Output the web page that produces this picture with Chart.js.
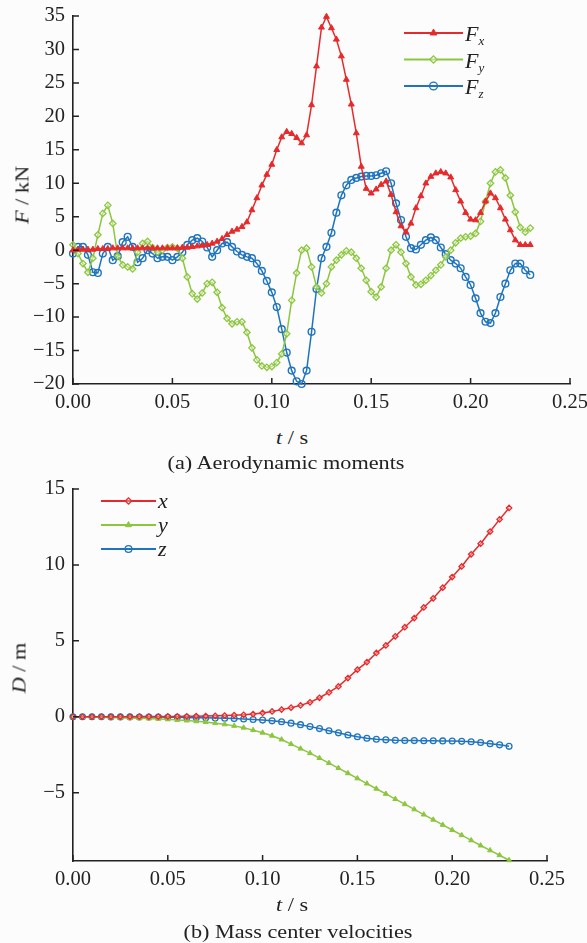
<!DOCTYPE html>
<html><head><meta charset="utf-8">
<script src="https://cdn.jsdelivr.net/npm/chart.js@4.4.0/dist/chart.umd.min.js"></script>
<style>
html,body{margin:0;padding:0;background:#fcfcfc;}
#wrap{position:relative;width:587px;height:943px;background:#fcfcfc;font-family:"Liberation Serif","Times New Roman",serif;color:#222;overflow:hidden;}
canvas{position:absolute;left:0;}
.t{position:absolute;white-space:nowrap;font-size:19px;line-height:1;transform:translate(-50%,-50%) scaleX(1.17);}
.r{transform:translate(-50%,-50%) rotate(-90deg) scaleX(1.17);}
.lg{position:absolute;white-space:nowrap;font-size:22px;line-height:1;font-style:italic;transform:translateY(-50%);}
.lg sub{font-size:13px;vertical-align:-4px;}
</style></head><body>
<div id="wrap">
<canvas id="c1" width="587" height="420" style="top:0"></canvas>
<canvas id="c2" width="587" height="430" style="top:470px"></canvas>
<div class="t" style="left:292px;top:437px"><i>t</i> / s</div>
<div class="t" style="left:286px;top:462px">(a) Aerodynamic moments</div>
<div class="t" style="left:292px;top:904px"><i>t</i> / s</div>
<div class="t" style="left:298px;top:931px">(b) Mass center velocities</div>
<div class="t r" style="left:22px;top:195px"><i>F</i> / kN</div>
<div class="t r" style="left:19px;top:668px"><i>D</i> / m</div>
<div class="lg" style="left:465px;top:35px">F<sub>x</sub></div>
<div class="lg" style="left:465px;top:62px">F<sub>y</sub></div>
<div class="lg" style="left:465px;top:88px">F<sub>z</sub></div>
<div class="lg" style="left:158px;top:501px">x</div>
<div class="lg" style="left:158px;top:525px">y</div>
<div class="lg" style="left:158px;top:549px">z</div>
</div>
<script>
// ---- data: (a) aerodynamic forces ----
const tTop = [0,0.0025,0.005,0.0075,0.01,0.0125,0.015,0.0175,0.02,0.0225,0.025,0.0275,0.03,0.0325,0.035,0.0375,0.04,0.0425,0.045,0.0475,0.05,0.0525,0.055,0.0575,0.06,0.0625,0.065,0.0675,0.07,0.0725,0.075,0.0775,0.08,0.0825,0.085,0.0875,0.09,0.0925,0.095,0.0975,0.1,0.1025,0.105,0.1075,0.11,0.1125,0.115,0.1175,0.12,0.1225,0.125,0.1275,0.13,0.1325,0.135,0.1375,0.14,0.1425,0.145,0.1475,0.15,0.1525,0.155,0.1575,0.16,0.1625,0.165,0.1675,0.17,0.1725,0.175,0.1775,0.18,0.1825,0.185,0.1875,0.19,0.1925,0.195,0.1975,0.2,0.2025,0.205,0.2075,0.21,0.2125,0.215,0.2175,0.22,0.2225,0.225,0.2275,0.23];
const Fx = [0.0,0.1,0.1,0.1,0.1,0.2,0.2,0.2,0.3,0.3,
0.3,0.3,0.3,0.3,0.3,0.3,0.3,0.3,0.3,0.3,
0.3,0.3,0.4,0.4,0.5,0.6,0.7,0.8,1.0,1.3,
1.7,2.3,2.8,3.1,3.5,4.2,6.0,7.8,9.7,11.3,
12.8,15.0,16.9,17.7,17.4,16.8,16.0,17.2,21.7,27.5,
33.3,34.9,33.2,31.5,29.0,25.5,21.8,17.5,12.5,9.2,
8.5,9.1,9.8,10.3,8.3,5.7,3.6,2.7,4.0,6.3,
8.1,10.0,11.0,11.5,11.7,11.5,10.9,9.0,7.3,5.6,
4.6,4.5,5.6,7.3,8.5,7.8,6.3,4.6,3.0,1.5,
0.8,0.8,0.8];
const Fy = [0.8,-0.5,-2.0,-3.3,-1.2,2.3,5.5,6.7,4.0,-0.9,
-2.2,-2.5,-2.8,-0.3,1.0,1.3,0.4,-0.3,0.0,0.4,
0.5,0.3,-1.2,-4.0,-6.5,-7.3,-6.4,-5.0,-4.8,-6.3,
-8.6,-10.2,-11.0,-10.7,-10.7,-12.3,-14.6,-16.4,-17.3,-17.5,
-17.4,-16.8,-15.5,-12.5,-7.5,-3.4,0.0,0.3,-2.5,-5.5,
-6.4,-5.0,-2.5,-1.5,-0.7,-0.1,-0.3,-1.2,-2.7,-4.5,
-6.2,-7.0,-5.5,-2.7,0.0,0.8,-0.3,-2.0,-4.0,-5.2,
-5.1,-4.5,-3.8,-3.0,-2.2,-1.0,0.0,1.1,1.8,2.0,
2.1,2.5,4.3,7.3,10.0,11.7,12.0,10.8,8.2,5.7,
3.4,2.7,3.3];
const Fz = [-0.5,0.5,0.5,-0.7,-3.3,-3.4,-0.5,0.5,-1.5,-0.9,
1.2,2.0,0.5,-1.8,-1.2,0.0,-0.5,-1.2,-1.0,-1.0,
-1.5,-1.0,-0.3,0.8,1.5,1.8,1.3,0.4,-1.0,0.0,
1.0,1.2,0.5,-0.2,-0.7,-1.0,-1.2,-2.0,-3.1,-4.6,
-6.3,-8.5,-11.8,-15.3,-18.0,-19.6,-20.0,-18.0,-12.2,-5.8,
-1.2,0.5,2.6,5.6,8.2,9.7,10.5,10.8,11.0,11.1,
11.1,11.2,11.5,11.8,10.0,7.0,4.5,2.0,0.3,0.1,
0.8,1.5,1.9,1.5,0.4,-0.6,-1.5,-2.0,-2.7,-4.0,
-5.2,-7.2,-9.4,-10.7,-10.9,-9.4,-7.0,-5.0,-3.0,-2.0,
-2.0,-3.0,-3.7];
// ---- data: (b) mass center ----
const tBot = [0,0.005,0.01,0.015,0.02,0.025,0.03,0.035,0.04,0.045,0.05,0.055,0.06,0.065,0.07,0.075,0.08,0.085,0.09,0.095,0.1,0.105,0.11,0.115,0.12,0.125,0.13,0.135,0.14,0.145,0.15,0.155,0.16,0.165,0.17,0.175,0.18,0.185,0.19,0.195,0.2,0.205,0.21,0.215,0.22,0.225,0.23];
const Dx = [0,0,0,0,0,0,0,0.01,0.01,0.01,0.02,0.02,0.03,0.04,0.05,0.06,0.08,0.1,0.13,0.18,0.25,0.35,0.47,0.6,0.75,0.95,1.25,1.6,2.0,2.55,3.1,3.6,4.2,4.7,5.3,5.9,6.5,7.2,7.8,8.5,9.2,9.9,10.7,11.4,12.2,13.0,13.75];
const Dy = [0,0,-0.02,-0.03,-0.05,-0.06,-0.08,-0.1,-0.12,-0.14,-0.17,-0.21,-0.25,-0.3,-0.35,-0.42,-0.5,-0.6,-0.72,-0.88,-1.05,-1.25,-1.5,-1.8,-2.1,-2.4,-2.72,-3.05,-3.38,-3.72,-4.06,-4.4,-4.74,-5.08,-5.42,-5.76,-6.1,-6.44,-6.78,-7.12,-7.46,-7.8,-8.14,-8.48,-8.8,-9.12,-9.45];
const Dz = [0,0,0,0,-0.01,-0.01,-0.01,-0.02,-0.02,-0.02,-0.03,-0.04,-0.05,-0.06,-0.07,-0.08,-0.1,-0.12,-0.15,-0.18,-0.22,-0.27,-0.33,-0.42,-0.52,-0.65,-0.78,-0.92,-1.06,-1.2,-1.32,-1.42,-1.48,-1.52,-1.55,-1.56,-1.57,-1.58,-1.58,-1.59,-1.6,-1.62,-1.65,-1.7,-1.77,-1.85,-1.95];
const xTicks = [0,0.05,0.1,0.15,0.2,0.25];

const RED='#e62a2b', GREEN='#8cc63f', BLUE='#1f74bd', AX='#222';
const FONT = {family:'"Liberation Serif","Times New Roman",serif', size:20.5};
const pts = (xs, ys) => xs.map((x,i)=>({x, y: ys[i]}));

const inward = {
  id:'inward',
  afterDraw(chart){
    const ctx=chart.ctx, a=chart.chartArea, sx=chart.scales.x, sy=chart.scales.y;
    ctx.save(); ctx.strokeStyle=AX; ctx.lineWidth=1.5;
    ctx.beginPath();
    sx.ticks.forEach(t=>{const p=sx.getPixelForValue(t.value); ctx.moveTo(p,a.bottom); ctx.lineTo(p,a.bottom-6);});
    sy.ticks.forEach(t=>{const p=sy.getPixelForValue(t.value); ctx.moveTo(a.left,p); ctx.lineTo(a.left+6,p);});
    ctx.stroke();
    // legend samples
    const L = chart.options.plugins.inward;
    chart.data.datasets.forEach((ds,i)=>{
      const y=L.y0+i*L.dy;
      ctx.strokeStyle=ds.borderColor; ctx.lineWidth=2;
      ctx.beginPath(); ctx.moveTo(L.x0,y); ctx.lineTo(L.x1,y); ctx.stroke();
      ctx.fillStyle=ds.pointBackgroundColor; ctx.strokeStyle=ds.borderColor; ctx.lineWidth=ds.pointBorderWidth;
      Chart.helpers.drawPoint(ctx,{pointStyle:ds.pointStyle,radius:ds.pointRadius+0.5,rotation:0,borderWidth:ds.pointBorderWidth},(L.x0+L.x1)/2,y);
    });
    ctx.restore();
  }
};

function axes(ymin,ymax,xh){
  const fitY = s=>{s.width=73; s.paddingTop=0; s.paddingBottom=0;};
  const fitX = s=>{s.height=xh; s.paddingLeft=0; s.paddingRight=0;};
  return {
    x:{type:'linear',min:0,max:0.25,
      afterBuildTicks:s=>{s.ticks=xTicks.map(v=>({value:v}));},
      afterFit:fitX,
      grid:{display:false,drawTicks:false,tickLength:0},
      border:{display:true,color:AX,width:1.6},
      ticks:{color:AX,font:FONT,padding:6,maxRotation:0,autoSkip:false,callback:v=>v.toFixed(2)}},
    y:{type:'linear',min:ymin,max:ymax,
      afterBuildTicks:s=>{s.ticks=s.ticks.filter(t=>Math.abs(t.value/5-Math.round(t.value/5))<1e-6);},
      afterFit:fitY,
      grid:{display:false,drawTicks:false,tickLength:0},
      border:{display:true,color:AX,width:1.6},
      ticks:{color:AX,font:FONT,padding:8,stepSize:5,callback:v=>String(v).replace('-','\u2212')}}
  };
}
function ds(label,data,color,style,bg,r,bw){
  return {label,data,borderColor:color,borderWidth:1.5,pointStyle:style,pointRadius:r,
    pointBackgroundColor:bg,pointBorderColor:color,pointBorderWidth:bw,tension:0,clip:8};
}
const common = (legend,ymin,ymax,xh,pad)=>({
  responsive:false,animation:false,
  layout:{padding:pad},
  plugins:{legend:{display:false},tooltip:{enabled:false},inward:legend},
  scales:axes(ymin,ymax,xh)
});

new Chart(document.getElementById('c1'),{
  type:'line',
  data:{datasets:[
    ds('Fx',pts(tTop,Fx),RED,'triangle',RED,3.4,1),
    ds('Fy',pts(tTop,Fy),GREEN,'rectRot','rgba(255,255,255,0.4)',3.2,1.3),
    ds('Fz',pts(tTop,Fz),BLUE,'circle','rgba(255,255,255,0)',3.4,1.4)
  ]},
  options:common({x0:404,x1:463,y0:33,dy:26.5},-20,35,36,{left:0,top:16,right:17,bottom:0}),
  plugins:[inward]
});
new Chart(document.getElementById('c2'),{
  type:'line',
  data:{datasets:[
    ds('x',pts(tBot,Dx),RED,'rectRot','rgba(255,255,255,0.3)',2.7,1.3),
    ds('y',pts(tBot,Dy),GREEN,'triangle',GREEN,2.9,1),
    ds('z',pts(tBot,Dz),BLUE,'circle','rgba(255,255,255,0)',2.9,1.3)
  ]},
  options:common({x0:101,x1:156,y0:31,dy:24},-9.5,15,39,{left:0,top:19,right:40,bottom:0}),
  plugins:[inward]
});
</script>
</body></html>
